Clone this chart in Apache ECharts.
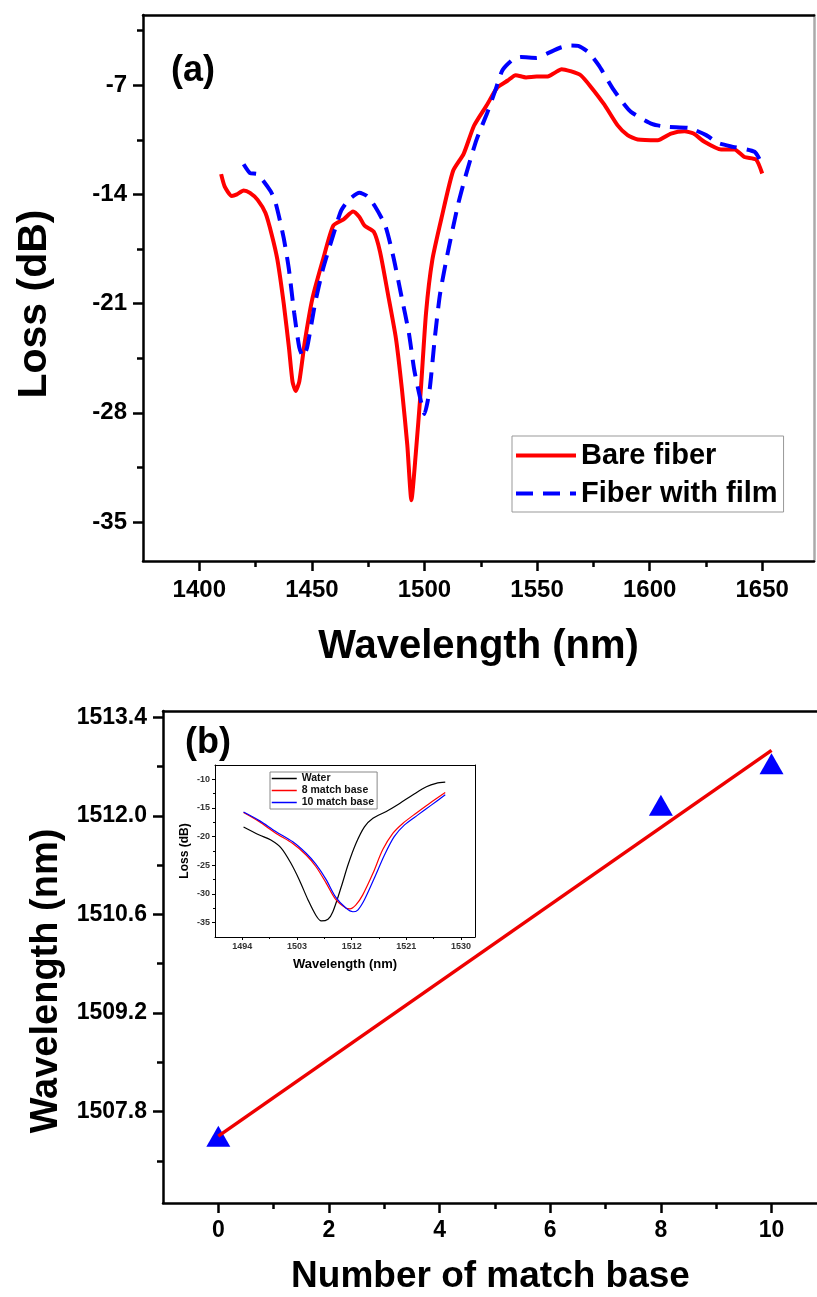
<!DOCTYPE html>
<html>
<head>
<meta charset="utf-8">
<script src="https://cdn.jsdelivr.net/npm/echarts@6/dist/echarts.min.js"></script>
<style>
  html, body { margin: 0; padding: 0; background: #fff; }
  #app { width: 817px; height: 1297px; }
</style>
</head>
<body>
<div id="app"></div>
<script>
var FONT = 'Arial, "Liberation Sans", sans-serif';

// panel (a): loss spectra, [wavelength nm, loss dB]
var bareFiber = [
    [1409.7, -12.7], [1411.3, -13.5], [1414.4, -14.1], [1416.7, -14.0], [1419.7, -13.75],
    [1422.5, -13.9], [1425.9, -14.35], [1429.4, -15.2], [1432.2, -16.6], [1434.7, -18.2],
    [1437.5, -21.0], [1439.8, -23.8], [1441.4, -26.0], [1442.8, -26.6], [1444.4, -26.0],
    [1446.8, -23.5], [1450.2, -20.7], [1454.9, -18.2], [1459.5, -16.0], [1464.1, -15.6],
    [1468.3, -15.1], [1471.1, -15.45], [1473.4, -16.0], [1477.5, -16.4], [1480.3, -17.7],
    [1483.8, -20.4], [1487.3, -23.2], [1490.0, -26.5], [1492.4, -30.1], [1494.2, -33.6],
    [1496.1, -30.7], [1498.4, -26.5], [1500.7, -21.6], [1503.5, -18.2], [1507.6, -15.5],
    [1512.7, -12.5], [1517.4, -11.4], [1522.0, -9.6], [1527.8, -8.25], [1532.4, -7.14],
    [1537.0, -6.7], [1540.5, -6.36], [1545.1, -6.5], [1549.8, -6.45], [1554.4, -6.45],
    [1557.9, -6.2], [1560.9, -5.97], [1564.8, -6.1], [1569.4, -6.36], [1574.1, -7.14],
    [1579.9, -8.25], [1585.7, -9.56], [1590.2, -10.2], [1594.7, -10.48], [1603.6, -10.53],
    [1609.5, -10.1], [1615.5, -9.95], [1619.5, -10.1], [1624.3, -10.63], [1631.7, -11.12],
    [1637.7, -11.12], [1642.1, -11.6], [1647.3, -11.77], [1650.0, -12.66]
];
var fiberWithFilm = [
    [1419.7, -12.07], [1422.5, -12.63], [1425.9, -12.7], [1431.7, -13.8], [1434.0, -14.6],
    [1437.5, -16.8], [1439.8, -18.8], [1442.1, -21.55], [1444.4, -23.8], [1446.1, -24.4],
    [1447.9, -23.8], [1451.4, -21.0], [1454.9, -18.8], [1459.5, -16.6], [1463.0, -15.04],
    [1466.4, -14.35], [1471.1, -13.9], [1474.5, -14.1], [1478.0, -14.76], [1482.6, -16.0],
    [1486.1, -17.95], [1489.6, -20.4], [1493.1, -22.9], [1495.4, -25.2], [1497.7, -26.8],
    [1500.0, -28.07], [1502.3, -26.5], [1504.6, -23.2], [1506.9, -20.4], [1510.4, -17.7],
    [1515.0, -14.6], [1518.5, -12.7], [1523.1, -10.5], [1527.8, -8.8], [1531.3, -7.4],
    [1534.7, -6.03], [1539.4, -5.34], [1542.8, -5.2], [1549.8, -5.25], [1554.4, -4.98],
    [1560.2, -4.6], [1564.8, -4.45], [1568.3, -4.48], [1572.9, -4.9], [1577.5, -5.75],
    [1583.3, -7.14], [1587.5, -8.0], [1591.7, -8.71], [1601.3, -9.5], [1608.0, -9.67],
    [1617.6, -9.75], [1625.1, -10.2], [1630.3, -10.7], [1637.0, -10.95], [1646.6, -11.27],
    [1650.0, -12.1]
];
var aXTicks = [1400, 1450, 1500, 1550, 1600, 1650];
var aXMinor = [1425, 1475, 1525, 1575, 1625];
var aYTicks = [-35, -28, -21, -14, -7];
var aYMinor = [-31.5, -24.5, -17.5, -10.5, -3.5];

// panel (b): resonance wavelength vs number of match base
var matchBase = [0, 8, 10];
var peakWavelength = [1507.45, 1512.15, 1512.74];
var fitLine = [[0, 1507.45], [10, 1512.93]];
var bXTicks = [0, 2, 4, 6, 8, 10];
var bXMinor = [1, 3, 5, 7, 9];
var bYTicks = [1507.8, 1509.2, 1510.6, 1512.0, 1513.4];
var bYMinor = [1507.1, 1508.5, 1509.9, 1511.3, 1512.7];

// inset spectra
var water = [
    [1494.2, -18.3], [1496.8, -19.7], [1498.7, -20.6], [1500.4, -22.0], [1502.0, -24.65],
    [1503.4, -27.6], [1504.8, -31.0], [1506.1, -33.7], [1507.0, -34.7], [1508.1, -34.4],
    [1508.9, -33.1], [1510.3, -28.7], [1511.4, -24.9], [1512.7, -21.2], [1514.1, -18.3],
    [1515.5, -16.8], [1517.7, -15.6], [1519.9, -14.2], [1522.1, -12.7], [1524.3, -11.3],
    [1525.9, -10.7], [1527.4, -10.5]
];
var base8 = [
    [1494.2, -15.8], [1496.8, -17.4], [1499.5, -19.4], [1502.3, -21.2], [1504.5, -23.2],
    [1506.1, -25.2], [1507.8, -28.1], [1509.4, -31.0], [1511.1, -32.5], [1511.7, -32.6],
    [1512.7, -31.9], [1513.8, -30.2], [1515.5, -26.4], [1517.1, -22.3], [1518.8, -19.4],
    [1520.4, -17.7], [1522.6, -15.9], [1524.8, -14.2], [1527.4, -12.3]
];
var base10 = [
    [1494.2, -15.7], [1496.8, -17.2], [1499.5, -19.1], [1502.3, -20.9], [1504.5, -22.9],
    [1506.1, -24.8], [1507.8, -27.5], [1509.4, -30.6], [1511.1, -32.5], [1512.2, -33.1],
    [1513.0, -32.8], [1514.1, -31.0], [1515.7, -27.3], [1517.4, -23.2], [1519.0, -20.0],
    [1520.7, -17.95], [1522.9, -16.2], [1525.1, -14.5], [1527.4, -12.7]
];
var inXTicks = [1494, 1503, 1512, 1521, 1530];
var inXMinor = [1498.5, 1507.5, 1516.5, 1525.5];
var inYTicks = [-35, -30, -25, -20, -15, -10];
var inYMinor = [-32.5, -27.5, -22.5, -17.5, -12.5];

function plain(v) { return String(v); }

// builds [major, minor, opposite edge] axes for one side of a grid
function axisSet(gridIndex, isX, min, max, major, minor, s) {
    var base = {
        type: 'value', gridIndex: gridIndex, min: min, max: max,
        splitLine: { show: false }
    };
    var main = Object.assign({}, base, {
        position: isX ? 'bottom' : 'left',
        axisLine: { show: true, onZero: false, lineStyle: { color: '#000', width: s.lw } },
        axisTick: { show: true, inside: false, length: s.majorLen, customValues: major,
            lineStyle: { color: '#000', width: s.lw } },
        axisLabel: { show: true, customValues: major, margin: s.margin,
            fontSize: s.labelSize, fontWeight: 'bold', fontFamily: FONT, color: s.labelColor || '#000',
            formatter: s.fmt || plain },
        name: s.name,
        nameLocation: 'middle',
        nameGap: s.nameGap,
        nameRotate: isX ? 0 : 90,
        nameTextStyle: { fontSize: s.nameSize, fontWeight: 'bold', fontFamily: FONT, color: '#000',
            padding: s.namePadding || 0 }
    });
    var sub = Object.assign({}, base, {
        position: isX ? 'bottom' : 'left',
        axisLine: { show: false, onZero: false },
        axisTick: { show: true, inside: false, length: s.minorLen, customValues: minor,
            lineStyle: { color: '#000', width: s.lw } },
        axisLabel: { show: false }
    });
    var edge = Object.assign({}, base, {
        position: isX ? 'top' : 'right',
        axisLine: { show: true, onZero: false, lineStyle: { color: s.edgeColor || '#000', width: s.lw } },
        axisTick: { show: false },
        axisLabel: { show: false }
    });
    return [main, sub, edge];
}

var xAxes = [].concat(
    axisSet(0, true, 1375, 1673, aXTicks, aXMinor, {
        lw: 2.5, majorLen: 10, minorLen: 6, margin: 17, labelSize: 24,
        name: 'Wavelength (nm)', nameSize: 40, nameGap: 66
    }),
    axisSet(1, true, -1, 10.84, bXTicks, bXMinor, {
        lw: 2.5, majorLen: 10, minorLen: 6, margin: 16, labelSize: 23,
        name: 'Number of match base', nameSize: 37, nameGap: 55
    }),
    axisSet(2, true, 1489.5, 1532.3, inXTicks, inXMinor, {
        lw: 1, majorLen: 3, minorLen: 2, margin: 5, labelSize: 9, labelColor: '#333',
        name: 'Wavelength (nm)', nameSize: 13, nameGap: 21
    })
);
var yAxes = [].concat(
    axisSet(0, false, -37.5, -2.5, aYTicks, aYMinor, {
        lw: 2.5, majorLen: 10, minorLen: 6, margin: 16, labelSize: 24,
        name: 'Loss (dB)', nameSize: 41, nameGap: 88, namePadding: [0, 32, 0, 0], edgeColor: '#aaa'
    }),
    axisSet(1, false, 1506.5, 1513.49, bYTicks, bYMinor, {
        lw: 2.5, majorLen: 10, minorLen: 6, margin: 16, labelSize: 23,
        fmt: function (v) { return v.toFixed(1); },
        name: 'Wavelength (nm)', nameSize: 38, nameGap: 96, namePadding: [0, 48, 0, 0]
    }),
    axisSet(2, false, -37.5, -7.5, inYTicks, inYMinor, {
        lw: 1, majorLen: 3, minorLen: 2, margin: 5, labelSize: 9, labelColor: '#333',
        name: 'Loss (dB)', nameSize: 12, nameGap: 24
    })
);

var peakPoints = matchBase.map(function (n, i) { return [n, peakWavelength[i]]; });

var option = {
    backgroundColor: '#fff',
    animation: false,
    grid: [
        { left: 143, top: 15, width: 671, height: 546, outerBoundsMode: 'none', containLabel: false },
        { left: 163, top: 711, width: 655, height: 492, outerBoundsMode: 'none', containLabel: false },
        { left: 215, top: 765, width: 260, height: 172, outerBoundsMode: 'none', containLabel: false,
          show: true, backgroundColor: '#fff', borderWidth: 0 }
    ],
    xAxis: xAxes,
    yAxis: yAxes,
    legend: [{
        data: ['Bare fiber', 'Fiber with film'],
        orient: 'vertical',
        left: 512, top: 436,
        itemWidth: 60, itemHeight: 14, itemGap: 5,
        padding: [3, 6, 2, 2],
        borderColor: '#999', borderWidth: 1, borderRadius: 0,
        backgroundColor: '#fff',
        itemStyle: { opacity: 0 },
        lineStyle: { width: 4 },
        textStyle: { fontSize: 29, fontWeight: 'bold', fontFamily: FONT, color: '#000', lineHeight: 33 }
    }, {
        data: ['Water', '8 match base', '10 match base'],
        orient: 'vertical',
        left: 270, top: 772,
        itemWidth: 25, itemHeight: 8, itemGap: 1,
        padding: [1, 3, 1, 1],
        borderColor: '#888', borderWidth: 1, borderRadius: 0,
        backgroundColor: '#fff',
        itemStyle: { opacity: 0 },
        lineStyle: { width: 1.5 },
        textStyle: { fontSize: 10.5, fontWeight: 'bold', fontFamily: FONT, color: '#111', lineHeight: 11 }
    }],
    graphic: [
        { type: 'text', left: 171, top: 53, style: { text: '(a)', fontSize: 36, fontWeight: 'bold', fontFamily: FONT, fill: '#000' } },
        { type: 'text', left: 185, top: 725, style: { text: '(b)', fontSize: 36, fontWeight: 'bold', fontFamily: FONT, fill: '#000' } }
    ],
    series: [{
        name: 'Bare fiber', type: 'line', xAxisIndex: 0, yAxisIndex: 0,
        data: bareFiber, symbol: 'none', smooth: 0.2,
        lineStyle: { color: '#ff0000', width: 4 }, itemStyle: { color: '#ff0000' }
    }, {
        name: 'Fiber with film', type: 'line', xAxisIndex: 0, yAxisIndex: 0,
        data: fiberWithFilm, symbol: 'none', smooth: 0.2,
        lineStyle: { color: '#0000ff', width: 4, type: [17, 10] }, itemStyle: { color: '#0000ff' }
    }, {
        name: 'Peak', type: 'scatter', xAxisIndex: 3, yAxisIndex: 3,
        data: peakPoints, symbol: 'triangle', symbolSize: [24, 21],
        itemStyle: { color: '#0000ff', opacity: 1 }, z: 2
    }, {
        name: 'Linear fit', type: 'line', xAxisIndex: 3, yAxisIndex: 3,
        data: fitLine, symbol: 'none',
        lineStyle: { color: '#ee0000', width: 3.5 }, z: 3
    }, {
        name: 'Water', type: 'line', xAxisIndex: 6, yAxisIndex: 6,
        data: water, symbol: 'none', smooth: 0.3,
        lineStyle: { color: '#000', width: 1.2 }, itemStyle: { color: '#000' }, z: 5
    }, {
        name: '8 match base', type: 'line', xAxisIndex: 6, yAxisIndex: 6,
        data: base8, symbol: 'none', smooth: 0.3,
        lineStyle: { color: '#ff0000', width: 1.2 }, itemStyle: { color: '#ff0000' }, z: 5
    }, {
        name: '10 match base', type: 'line', xAxisIndex: 6, yAxisIndex: 6,
        data: base10, symbol: 'none', smooth: 0.3,
        lineStyle: { color: '#0000ff', width: 1.2 }, itemStyle: { color: '#0000ff' }, z: 5
    }]
};

var myChart = echarts.init(document.getElementById('app'), null, { renderer: 'canvas' });
myChart.setOption(option);
</script>
</body>
</html>
